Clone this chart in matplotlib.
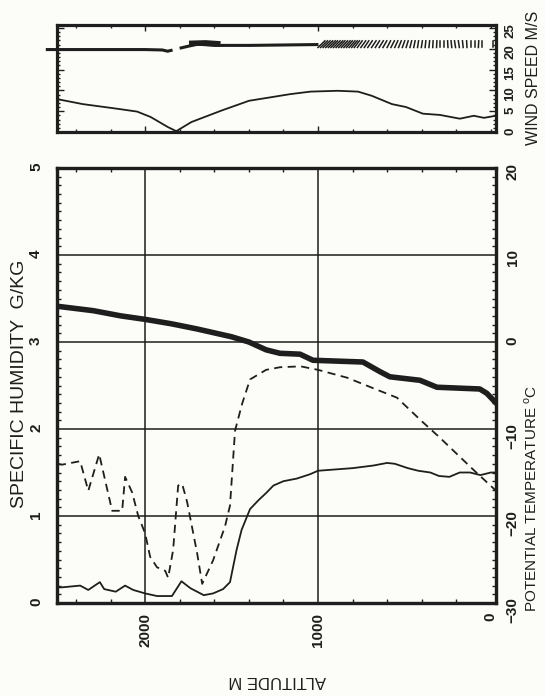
"""Rotated sounding profile: humidity, potential temperature and wind vs altitude."""

import matplotlib
matplotlib.use("Agg")
import matplotlib.pyplot as plt
from matplotlib.ticker import MultipleLocator

FONT = ["Liberation Sans", "DejaVu Sans"]
plt.rcParams["font.family"] = FONT
INK = "#1e1e1e"
PAPER = "#fcfcf8"

# specific humidity (g/kg), solid trace
hum_alt = [2505, 2481, 2376, 2329, 2262, 2237, 2170, 2116, 2069, 2000, 1931, 1845,
           1790, 1738, 1661, 1607, 1549, 1509, 1471, 1442, 1393, 1345, 1297, 1258,
           1200, 1123, 1046, 1000, 800, 680, 600, 555, 480, 420, 350, 300, 240, 180,
           120, 60, 0, -25]
hum_val = [0.18, 0.18, 0.20, 0.15, 0.24, 0.16, 0.13, 0.20, 0.15, 0.11, 0.08, 0.08,
           0.25, 0.17, 0.09, 0.11, 0.16, 0.24, 0.61, 0.84, 1.08, 1.18, 1.27, 1.35,
           1.40, 1.43, 1.48, 1.52, 1.55, 1.58, 1.61, 1.60, 1.55, 1.52, 1.50, 1.46,
           1.45, 1.50, 1.50, 1.47, 1.50, 1.50]

# specific humidity (g/kg), dashed trace
dash_alt = [2505, 2481, 2376, 2329, 2266, 2191, 2133, 2116, 2075, 2040, 2000, 1971,
            1931, 1884, 1867, 1838, 1809, 1786, 1757, 1699, 1670, 1607, 1538, 1509,
            1480, 1439, 1393, 1300, 1220, 1100, 1000, 832, 682, 543, 400, 300, 200,
            100, -25]
dash_val = [1.60, 1.59, 1.63, 1.29, 1.71, 1.06, 1.06, 1.45, 1.27, 1.00, 0.80, 0.53,
            0.41, 0.37, 0.29, 0.61, 1.35, 1.37, 1.16, 0.57, 0.22, 0.49, 0.88, 1.12,
            1.98, 2.29, 2.57, 2.68, 2.71, 2.72, 2.68, 2.59, 2.47, 2.36, 2.09, 1.91,
            1.72, 1.53, 1.30]

# potential temperature (deg C)
theta_alt = [2505, 2300, 2140, 2000, 1850, 1700, 1500, 1400, 1300, 1220, 1104,
             1029, 740, 642, 584, 410, 312, 64, 23, -25]
theta_val = [4.1, 3.6, 3.0, 2.6, 2.1, 1.5, 0.6, 0.0, -0.9, -1.3, -1.4,
             -2.1, -2.3, -3.4, -4.0, -4.4, -5.2, -5.4, -5.9, -6.9]

# wind speed (m/s)
wind_alt = [2509, 2361, 2164, 2046, 1968, 1869, 1820, 1780, 1732, 1555, 1399,
            1279, 1160, 1043, 885, 768, 689, 572, 491, 393, 295, 179, 98, 40, -29]
wind_val = [7.9, 6.7, 5.6, 4.9, 3.6, 1.2, 0.2, 1.2, 2.4, 5.2, 7.5,
            8.3, 9.1, 9.7, 9.9, 9.7, 8.7, 6.7, 6.0, 4.4, 4.1, 3.2, 3.9, 3.4, 3.9]

# wind direction trace along the top of the wind panel (None = break)
dir_alt = [2566, 2300, 2000, 1900, 1870, 1850, None, 1792, 1740, 1694, 1600, 1400,
           1200, 1006]
dir_val = [19.8, 19.8, 19.8, 19.7, 19.4, 19.6, None, 20.2, 20.7, 21.1, 20.8, 20.8,
           20.9, 21.0]
wedge_alt = [1730, 1650, 1580]
wedge_val = [21.3, 21.4, 21.2]

# direction barbs: position (m) and lean of the top end (m)
barb_alt = [1000, 985, 970, 955, 940, 925, 910, 895, 880, 865, 850, 835, 820, 805,
            790, 772, 752, 732, 712, 690, 668, 646, 624, 600, 578, 556, 534, 512,
            490, 468, 446, 424, 402, 380, 358, 336, 314, 292, 270, 248, 226, 204,
            182, 160, 138, 116, 94, 72, 50, -12]
barb_lean = [40, 40, 40, 40, 40, 38, 38, 38, 36, 36, 36, 34, 34, 32,
             30, 28, 28, 26, 26, 26, 24, 24, 22, 20, 20, 18, 16, 14,
             12, 10, 8, 6, 6, 4, 4, 2, 2, 0, 0, -2, -4, -6,
             -6, -4, -2, 0, 0, 2, 0, 0]
barb_base, barb_top = 20.3, 21.9

alt_ticks = [2000, 1000, 0]
hum_ticks = [0, 1, 2, 3, 4, 5]
temp_ticks = [-30, -20, -10, 0, 10, 20]
wind_ticks = [0, 5, 10, 15, 20, 25]

W, H = 545, 696
fig = plt.figure(figsize=(W / 100, H / 100), dpi=100, facecolor=PAPER)

ax = fig.add_axes([57 / W, 93 / H, 439 / W, 435 / H], facecolor=PAPER)
ax2 = ax.twinx()
top = fig.add_axes([57 / W, (H - 132) / H, 439 / W, 107 / H], facecolor=PAPER)

# --- main panel -------------------------------------------------------------
ax.plot(hum_alt, hum_val, color=INK, lw=1.3)
ax.plot(dash_alt, dash_val, color=INK, lw=1.3, dashes=(4.5, 3))
ax2.plot(theta_alt, theta_val, color=INK, lw=4.0, solid_joinstyle="round")

ax.set_xlim(2510, -30)
ax.set_ylim(0, 5)
ax2.set_ylim(-30, 20)

ax.set_xticks(alt_ticks)
ax.set_xticklabels([str(t) for t in alt_ticks])
ax.set_yticks(hum_ticks)
ax.set_yticklabels([str(t) for t in hum_ticks])
ax2.set_yticks(temp_ticks)
ax2.set_yticklabels([str(t).replace("-", "\u2212") for t in temp_ticks])
ax.xaxis.set_minor_locator(MultipleLocator(200))
ax.yaxis.set_minor_locator(MultipleLocator(0.1))
ax2.yaxis.set_minor_locator(MultipleLocator(1))

ax.grid(True, which="major", color=INK, lw=1.1)
ax.xaxis.get_gridlines()[-1].set_visible(False)
ax.set_axisbelow(True)

ax.tick_params(axis="both", which="both", direction="in", color=INK,
               top=True, labelsize=11, labelcolor=INK)
ax.tick_params(axis="y", which="major", length=0, pad=10, labelrotation=90)
ax.tick_params(axis="x", which="major", length=0, pad=7, labelrotation=90)
ax.tick_params(which="minor", length=3, width=1)
ax2.tick_params(axis="y", which="both", direction="in", color=INK,
                labelsize=11, labelcolor=INK, pad=7, labelrotation=90)
ax2.tick_params(which="major", length=0)
ax2.tick_params(which="minor", length=3, width=1)
for lab in ax.get_xticklabels() + ax.get_yticklabels() + ax2.get_yticklabels():
    lab.set_fontweight("bold")

for a in (ax, ax2):
    for s in a.spines.values():
        s.set_linewidth(2.3)
        s.set_color(INK)

# --- wind panel -------------------------------------------------------------
top.plot(wind_alt, wind_val, color=INK, lw=1.3)
top.plot([a if a is not None else float("nan") for a in dir_alt],
         [v if v is not None else float("nan") for v in dir_val],
         color=INK, lw=2.2, clip_on=False)
top.plot(wedge_alt, wedge_val, color=INK, lw=4.0)
for a, lean in zip(barb_alt, barb_lean):
    top.plot([a, a - lean], [barb_base, barb_top], color=INK, lw=1.1)

top.set_xlim(2510, -30)
top.set_ylim(0, 25.7)
top.set_xticks([2000, 1000])
top.set_xticklabels([])
top.xaxis.set_minor_locator(MultipleLocator(200))
top.yaxis.set_minor_locator(MultipleLocator(1))
top.yaxis.tick_right()
top.set_yticks(wind_ticks)
top.set_yticklabels([str(t) for t in wind_ticks])
top.tick_params(axis="both", which="both", direction="in", color=INK,
                top=True, left=True, right=True)
top.tick_params(axis="x", which="major", length=4, width=1)
top.tick_params(axis="y", which="major", length=5, width=1,
                labelsize=9.5, labelcolor=INK, pad=6, labelrotation=90)
top.tick_params(which="minor", length=2.5, width=1)
for lab in top.get_yticklabels():
    lab.set_fontweight("bold")
for s in top.spines.values():
    s.set_linewidth(2.3)
    s.set_color(INK)

# --- axis titles (placed as on the original sheet) --------------------------
fig.text(20 / W, 1 - 384 / H, "SPECIFIC HUMIDITY  G/KG", rotation=90,
         ha="center", va="center", fontsize=14, color=INK)
fig.text(531 / W, 1 - 498 / H, "POTENTIAL TEMPERATURE $^{\\mathregular{o}}$C",
         rotation=90, ha="center", va="center", fontsize=11, color=INK)
fig.text(533 / W, 1 - 78 / H, "WIND SPEED M/S", rotation=90,
         ha="center", va="center", fontsize=11.5, color=INK)
fig.text(277 / W, 1 - 680 / H, "ALTITUDE M", rotation=180,
         ha="center", va="center", fontsize=12, color=INK)

fig.savefig("out.png", dpi=100, facecolor=PAPER)
